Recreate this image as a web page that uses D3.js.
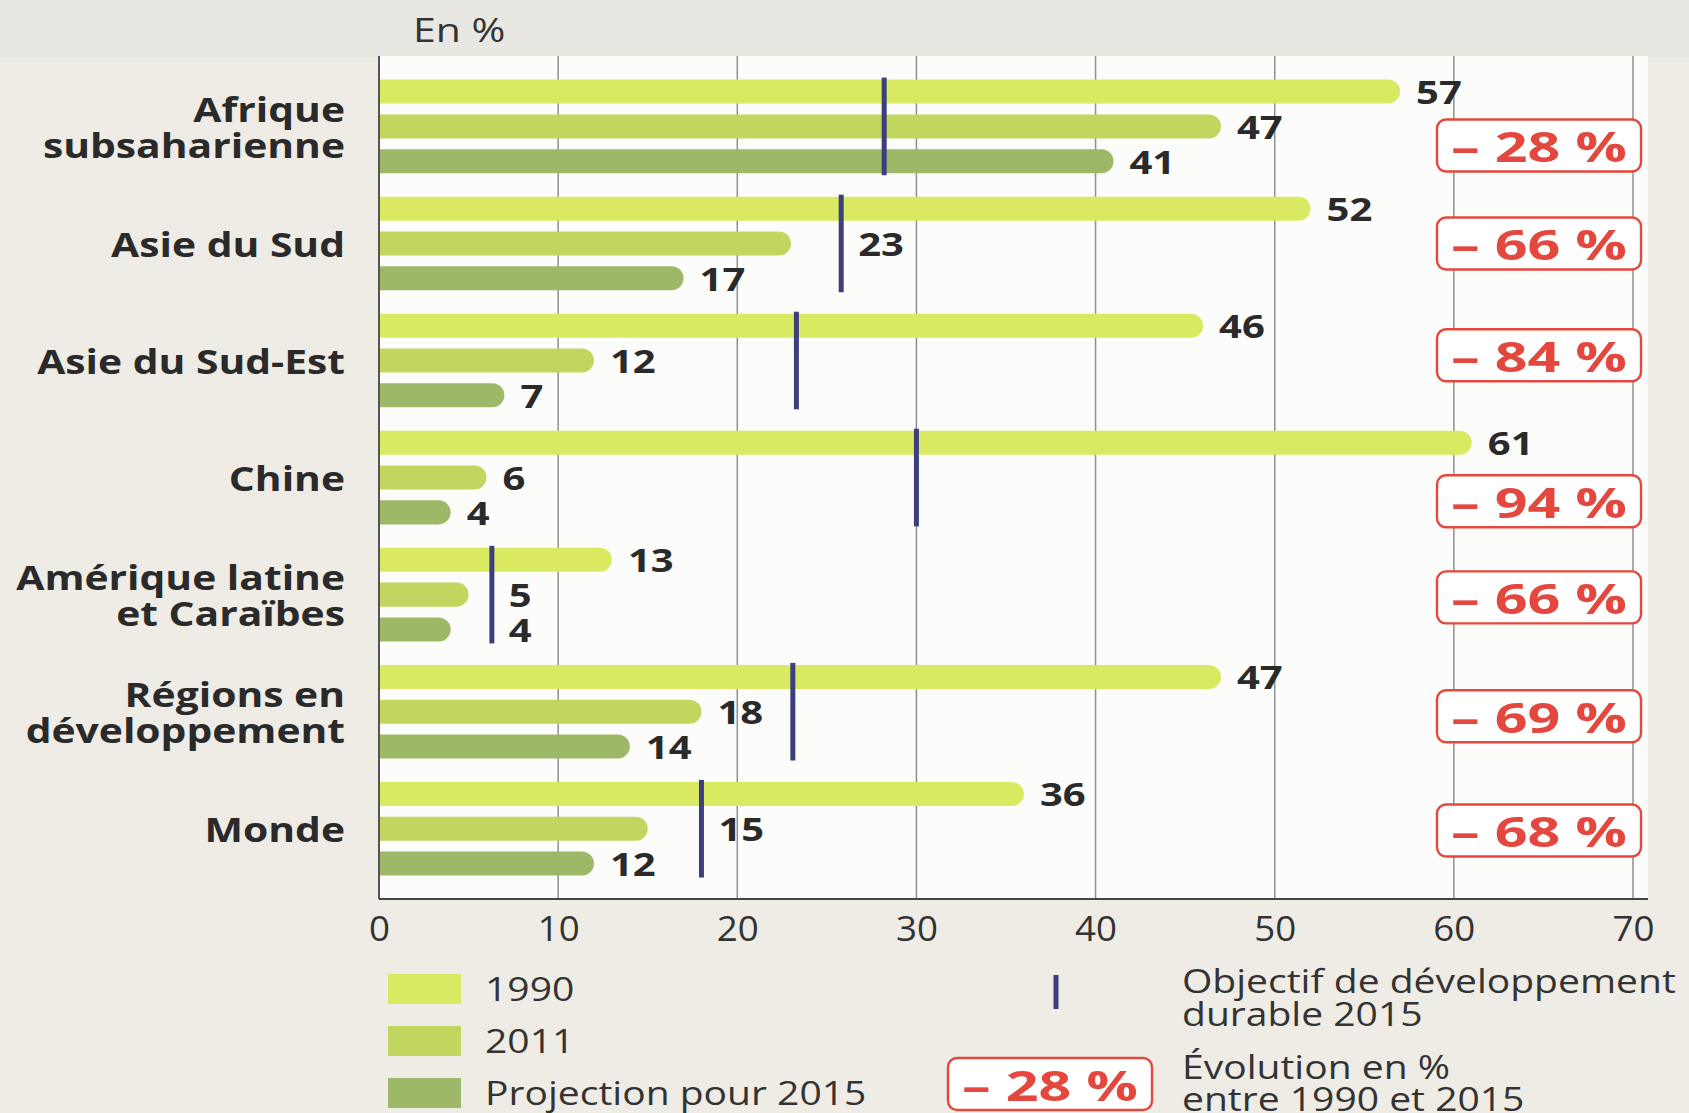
<!DOCTYPE html>
<html>
<head>
<meta charset="utf-8">
<script src="https://cdn.jsdelivr.net/npm/d3@7"></script>
<style>
  html, body { margin: 0; padding: 0; background: #efece5; }
  svg { display: block; }
  text { font-family: "Open Sans", "Noto Sans", sans-serif; }
</style>
</head>
<body>
<script>
// ---------- data ----------
const categories = ["Afrique subsaharienne", "Asie du Sud", "Asie du Sud-Est", "Chine",
  "Amérique latine et Caraïbes", "Régions en développement", "Monde"];
const categoryLines = [["Afrique", "subsaharienne"], ["Asie du Sud"], ["Asie du Sud-Est"], ["Chine"],
  ["Amérique latine", "et Caraïbes"], ["Régions en", "développement"], ["Monde"]];
const seriesNames = ["1990", "2011", "Projection pour 2015"];
const values1990 = [57, 52, 46, 61, 13, 47, 36];
const values2011 = [47, 23, 12, 6, 5, 18, 15];
const values2015 = [41, 17, 7, 4, 4, 14, 12];
const goal2015 = [28.2, 25.8, 23.3, 30, 6.3, 23.1, 18];
const evolution = [-28, -66, -84, -94, -66, -69, -68];
const xTicks = [0, 10, 20, 30, 40, 50, 60, 70];
const unitLabel = "En %";
const goalLegend = ["Objectif de développement", "durable 2015"];
const evoLegend = ["Évolution en %", "entre 1990 et 2015"];

// ---------- layout ----------
const W = 1689, H = 1113;
const colors = ["#d9ea62", "#c0d65f", "#9db866"];
const goalColor = "#3d3e7c";
const redColor = "#e4473d";
const textColor = "#2a2a2a";
const boxRowOffset = [0.55, 0, -0.15, 0.68, 0.08, 0.13, 0.05];

const svg = d3.select("body").append("svg").attr("width", W).attr("height", H);

// helper: text with horizontal stretch
function stext(g, str, px, py, size, weight, stretch, anchor, fill) {
  return g.append("text").text(str)
    .attr("transform", `translate(${px},${py}) scale(${stretch},1)`)
    .attr("text-anchor", anchor).attr("dominant-baseline", "central")
    .attr("font-size", size).attr("font-weight", weight).attr("fill", fill);
}

// background
svg.append("rect").attr("width", W).attr("height", H).attr("fill", "#efece5");
svg.append("rect").attr("width", W).attr("height", 58).attr("fill", "#e9e7e1");

const plotTop = 56, plotBottom = 899, plotLeft = 379, plotRight = 1648;
svg.append("rect").attr("x", plotLeft).attr("y", plotTop)
  .attr("width", plotRight - plotLeft).attr("height", plotBottom - plotTop).attr("fill", "#fcfcfa");

const x = d3.scaleLinear().domain([0, 70]).range([379, 1633]);
const y0 = d3.scaleBand().domain(categories).range([67.9, 887.3]);
const y1 = d3.scaleBand().domain(seriesNames).range([6.3, 110.7]).paddingInner(0.31).paddingOuter(0.155);

// gridlines
svg.append("g").selectAll("line").data(xTicks.filter(d => d > 0)).join("line")
  .attr("x1", d => x(d)).attr("x2", d => x(d))
  .attr("y1", plotTop).attr("y2", plotBottom)
  .attr("stroke", "#8f8f8f").attr("stroke-width", 1.5);

// bars
const seriesValues = [values1990, values2011, values2015];
const rows = [];
categories.forEach((c, i) => {
  seriesNames.forEach((s, j) => {
    rows.push({cat: c, i, s, j, v: seriesValues[j][i]});
  });
});
const bh = y1.bandwidth();
function barPath(d) {
  const x0 = x(0), x1 = x(d.v), yt = y0(d.cat) + y1(d.s), r = bh / 2;
  return `M${x0},${yt} H${x1 - r} A${r},${r} 0 0 1 ${x1 - r},${yt + bh} H${x0} Z`;
}
svg.append("g").selectAll("path").data(rows).join("path")
  .attr("d", barPath).attr("fill", d => colors[d.j]);

// goal lines
svg.append("g").selectAll("line").data(categories).join("line")
  .attr("x1", (c, i) => x(goal2015[i])).attr("x2", (c, i) => x(goal2015[i]))
  .attr("y1", c => y0(c) + y1(seriesNames[0]) - 2)
  .attr("y2", c => y0(c) + y1(seriesNames[2]) + bh + 2)
  .attr("stroke", goalColor).attr("stroke-width", 5);

// axes lines
svg.append("line").attr("x1", plotLeft).attr("x2", plotLeft).attr("y1", plotTop).attr("y2", plotBottom)
  .attr("stroke", "#555").attr("stroke-width", 2);
const xAxis = svg.append("g").attr("transform", `translate(0,${plotBottom})`)
  .call(d3.axisBottom(x).tickValues(xTicks).tickSize(0).tickPadding(18));
xAxis.select(".domain").attr("stroke", "#444").attr("stroke-width", 2.2)
  .attr("d", `M${plotLeft},0H${plotRight}`);
xAxis.selectAll("text").attr("font-size", 34).attr("fill", "#333")
  .attr("transform", "scale(1.08,1)")
  .style("font-family", '"Open Sans", "Noto Sans", sans-serif');

// value labels
const vl = svg.append("g");
const vStretch = 1.25;
rows.forEach(d => {
  const cy = y0(d.cat) + y1(d.s) + bh / 2;
  const t = stext(vl, d.v, 0, 0, 32, 700, vStretch, "start", textColor);
  let sx = x(d.v) + 16;
  const w = t.node().getComputedTextLength() * vStretch;
  const gx = x(goal2015[d.i]);
  if (gx > sx - 6 && gx < sx + w + 10) sx = gx + 17;
  t.attr("transform", `translate(${sx},${cy}) scale(${vStretch},1)`);
});

// category labels
const cl = svg.append("g");
categories.forEach((c, i) => {
  const lines = categoryLines[i];
  const cy = y0(c) + y0.bandwidth() / 2;
  const lh = 36;
  lines.forEach((ln, k) => {
    stext(cl, ln, 345, cy + (k - (lines.length - 1) / 2) * lh, 34, 700, 1.2, "end", textColor);
  });
});

// unit label
stext(svg, unitLabel, 413, 30, 32, 400, 1.28, "start", "#333");

// evolution boxes
const fmt = v => "\u2013 " + Math.abs(v) + " %";
function evoBox(g, cx, cy, v) {
  g.append("rect").attr("x", cx - 102).attr("y", cy - 26).attr("width", 204).attr("height", 52)
    .attr("rx", 9).attr("fill", "#ffffff").attr("stroke", redColor).attr("stroke-width", 2.4);
  stext(g, fmt(v), cx, cy + 1, 41, 700, 1.4, "middle", redColor);
}
const eb = svg.append("g");
categories.forEach((c, i) => {
  const cy = y0(c) + y1(seriesNames[1]) + bh / 2 + boxRowOffset[i] * y1.step();
  evoBox(eb, 1539, cy, evolution[i]);
});

// legend
const lg = svg.append("g");
const lStretch = 1.22;
seriesNames.forEach((s, j) => {
  const cy = 989 + j * 52;
  lg.append("rect").attr("x", 388).attr("y", cy - 15).attr("width", 73).attr("height", 30).attr("fill", colors[j]);
  stext(lg, s, 485, cy - 1, 32, 400, lStretch, "start", "#333");
});
lg.append("line").attr("x1", 1056).attr("x2", 1056).attr("y1", 975).attr("y2", 1009)
  .attr("stroke", goalColor).attr("stroke-width", 5);
goalLegend.forEach((t, k) => {
  stext(lg, t, 1182, 980 + k * 33, 32, 400, lStretch, "start", "#333");
});
evoBox(lg, 1050, 1084, evolution[0]);
evoLegend.forEach((t, k) => {
  stext(lg, t, 1182, 1066 + k * 32, 32, 400, lStretch, "start", "#333");
});
</script>
</body>
</html>
